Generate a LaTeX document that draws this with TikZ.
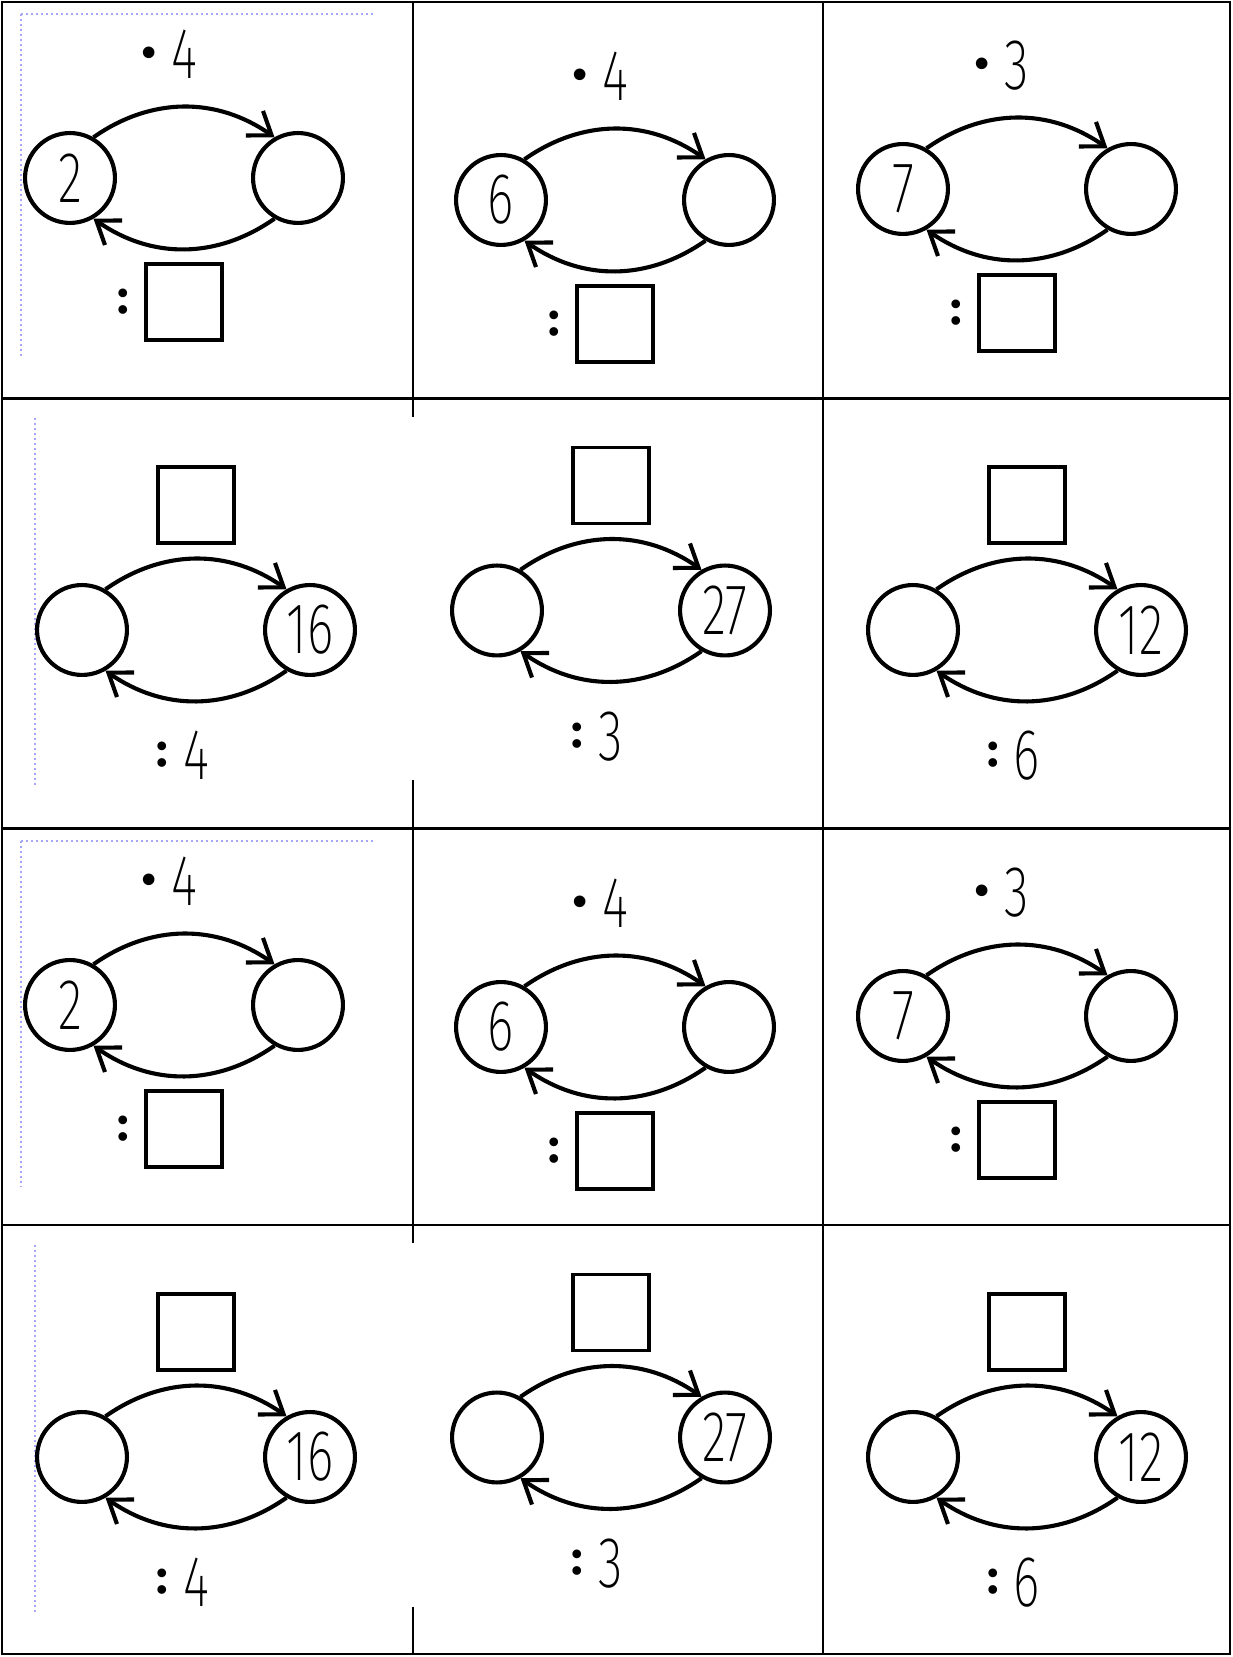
\documentclass[tikz,border=0pt]{standalone}
\usepackage{fontspec}
\setmainfont{Fira Sans}
\newfontfamily\digitfont{Fira Sans ExtraLight}[FakeStretch=0.7]
\usetikzlibrary{arrows.meta}
\definecolor{guideblue}{RGB}{165,165,250}
\tikzset{
  numring/.style={circle, draw, line width=4.1pt, minimum size=89.9pt, inner sep=0pt,
    font=\digitfont\fontsize{72}{72}\selectfont},
  answerbox/.style={rectangle, draw, line width=3.6pt, minimum size=76pt, inner sep=0pt},
  numlabel/.style={inner sep=0pt, anchor=base, font=\digitfont\fontsize{72}{72}\selectfont},
  oplabel/.style={inner sep=0pt, anchor=base, font=\bfseries\fontsize{64}{64}\selectfont},
  colonlabel/.style={inner sep=0pt, font=\bfseries\fontsize{48}{48}\selectfont},
  flowarc/.style={line width=4.1pt, -{Straight Barb[length=21pt,width=30pt]}},
  gridline/.style={line width=2.3pt},
  guide/.style={line width=1.6pt, color=guideblue, dash pattern=on 1.6pt off 3.4pt},
}
\newcommand{\fwdcell}[5]{%
  \begin{scope}[shift={(#2,#3)}]
    \node[numring] (#1L) at (0,0) {#4};
    \node[numring] (#1R) at (228,0) {};
    \node[oplabel] (#1d) at (79,99) {\raisebox{6pt}{·}};
    \node[numlabel] (#1f) at (114,99) {#5};
    \node[colonlabel] (#1c) at (53,-124) {:};
    \node[answerbox] (#1b) at (114,-124) {};
    \draw[flowarc] (#1L.60) to[out=35,in=145] (#1R.120);
    \draw[flowarc] (#1R.240) to[out=-145,in=-35] (#1L.300);
  \end{scope}}
\newcommand{\backcell}[5]{%
  \begin{scope}[shift={(#2,#3)}]
    \node[numring] (#1L) at (0,0) {};
    \node[numring] (#1R) at (228,0) {#4};
    \node[answerbox] (#1b) at (114,125) {};
    \node[colonlabel] (#1c) at (80,-125) {:};
    \node[numlabel] (#1f) at (114,-150) {#5};
    \draw[flowarc] (#1L.60) to[out=35,in=145] (#1R.120);
    \draw[flowarc] (#1R.240) to[out=-145,in=-35] (#1L.300);
  \end{scope}}
\begin{document}
\begin{tikzpicture}[x=1pt,y=1pt]
  \useasboundingbox (0,0) rectangle (1232,1657);
  % guide lines
  \draw[guide] (21,1643) -- (374,1643);
  \draw[guide] (21,1643) -- (21,1299);
  \draw[guide] (35,1239) -- (35,872);
  \draw[guide] (21,816) -- (374,816);
  \draw[guide] (21,816) -- (21,470);
  \draw[guide] (35,412) -- (35,45);
  % table
  \draw[gridline] (2,3) rectangle (1230,1655);
  \draw[gridline] (2,1258.5) -- (1230,1258.5);
  \draw[gridline] (2,828.5) -- (1230,828.5);
  \draw[gridline] (2,432) -- (1230,432);
  \draw[gridline] (823,3) -- (823,1655);
  \draw[gridline] (412.7,1655) -- (412.7,1240);
  \draw[gridline] (412.7,877) -- (412.7,414);
  \draw[gridline] (412.7,50) -- (412.7,3);
  % cells
  \fwdcell{a}{70}{1479}{2}{4}
  \fwdcell{b}{501}{1457}{6}{4}
  \fwdcell{c}{903}{1468}{7}{3}
  \backcell{d}{82}{1027}{16}{4}
  \backcell{e}{497}{1046.5}{27}{3}
  \backcell{f}{913}{1027}{12}{6}
  \fwdcell{g}{70}{652}{2}{4}
  \fwdcell{h}{501}{630}{6}{4}
  \fwdcell{i}{903}{641}{7}{3}
  \backcell{j}{82}{200}{16}{4}
  \backcell{k}{497}{219.5}{27}{3}
  \backcell{l}{913}{200}{12}{6}
\end{tikzpicture}
\end{document}
